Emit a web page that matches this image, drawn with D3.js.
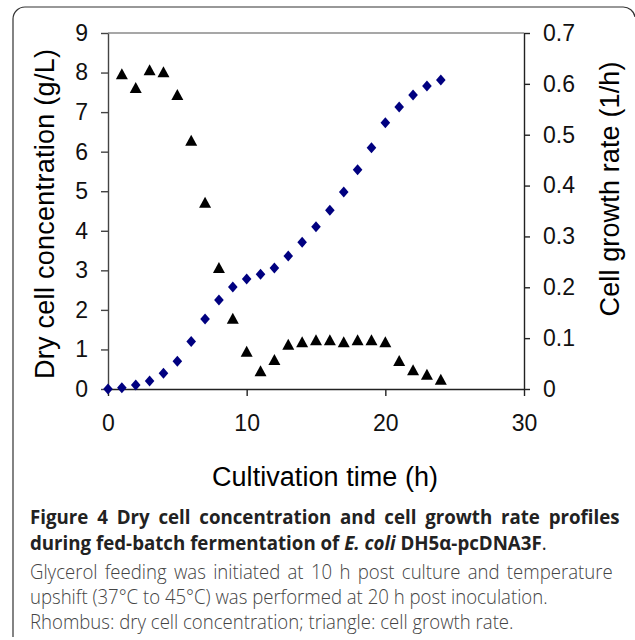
<!DOCTYPE html>
<html>
<head>
<meta charset="utf-8">
<script src="https://d3js.org/d3.v7.min.js"></script>
<style>
    body { margin: 0; background: #fff; }
    .axis text { font-family: "Liberation Sans", Arial, sans-serif; font-size: 23px; fill: #111; }
    .axis-title { font-family: "Liberation Sans", Arial, sans-serif; font-size: 27px; fill: #000; }
    .cap { font-family: "Open Sans", sans-serif; }
    .cap-title { font-weight: 700; fill: #222; font-size: 19.5px; }
    .cap-body { font-weight: 300; fill: #444; font-size: 19.5px; }
</style>
</head>
<body>
<svg id="fig" width="635" height="640"></svg>
<script>
    // cultivation time (h)
    const hours = [0, 1, 2, 3, 4, 5, 6, 7, 8, 9, 10, 11, 12, 13, 14, 15, 16, 17, 18, 19, 20, 21, 22, 23, 24];
    // dry cell concentration (g/L), rhombus
    const dryCell = [0, 0.03, 0.1, 0.2, 0.4, 0.7, 1.2, 1.77, 2.25, 2.58, 2.78, 2.9, 3.06, 3.36, 3.71, 4.1,
        4.52, 4.98, 5.54, 6.1, 6.73, 7.13, 7.43, 7.66, 7.81];
    // cell growth rate (1/h), triangle, from hour 1
    const rateHours = [1, 2, 3, 4, 5, 6, 7, 8, 9, 10, 11, 12, 13, 14, 15, 16, 17, 18, 19, 20, 21, 22, 23, 24];
    const growthRate = [0.619, 0.592, 0.627, 0.623, 0.578, 0.488, 0.366, 0.238, 0.138, 0.073, 0.035, 0.057,
        0.087, 0.092, 0.096, 0.096, 0.092, 0.096, 0.096, 0.092, 0.055, 0.037, 0.028, 0.018];

    const xTicks = [0, 10, 20, 30];
    const yLeftTicks = [0, 1, 2, 3, 4, 5, 6, 7, 8, 9];
    const yRightTicks = [0, 0.1, 0.2, 0.3, 0.4, 0.5, 0.6, 0.7];

    const plot = { left: 108, right: 524, top: 33, bottom: 389 };

    const svg = d3.select("#fig");

    // frame round the figure (only the left/top edges show in the crop)
    svg.append("path")
        .attr("d", "M13,637 L13,19 A12,12 0 0 1 25,7 L623,7 A12,12 0 0 1 635,17")
        .attr("fill", "none")
        .attr("stroke", "#333")
        .attr("stroke-width", 1.2);

    const x = d3.scaleLinear().domain([0, 30]).range([plot.left, plot.right]);
    const yL = d3.scaleLinear().domain([0, 9]).range([plot.bottom, plot.top]);
    const yR = d3.scaleLinear().domain([0, 0.7]).range([plot.bottom, plot.top]);

    // top border of plot area
    svg.append("line")
        .attr("x1", plot.left).attr("x2", plot.right)
        .attr("y1", plot.top).attr("y2", plot.top)
        .attr("stroke", "#8a8a8a").attr("stroke-width", 1.3);

    svg.append("g").attr("class", "axis")
        .attr("transform", `translate(0,${plot.bottom})`)
        .call(d3.axisBottom(x).tickValues(xTicks).tickSize(7).tickSizeOuter(0).tickPadding(19));

    const gyl = svg.append("g").attr("class", "axis")
        .attr("transform", `translate(${plot.left},0)`)
        .call(d3.axisLeft(yL).tickValues(yLeftTicks).tickSize(7).tickSizeOuter(0).tickPadding(13));

    svg.append("g").attr("class", "axis")
        .attr("transform", `translate(${plot.right},0)`)
        .call(d3.axisRight(yR).tickValues(yRightTicks).tickSize(6).tickSizeOuter(0).tickPadding(13)
            .tickFormat(d => d === 0 ? "0" : d3.format(".1f")(d)));

    svg.selectAll(".axis path, .axis line").attr("stroke", "#222").attr("stroke-width", 1.4);
    gyl.selectAll("path, line").attr("stroke", "#444");

    // axis titles
    svg.append("text").attr("class", "axis-title")
        .attr("transform", `translate(54,${(plot.top + plot.bottom) / 2 + 3}) rotate(-90)`)
        .attr("text-anchor", "middle")
        .attr("textLength", 330).attr("lengthAdjust", "spacing")
        .text("Dry cell concentration (g/L)");

    svg.append("text").attr("class", "axis-title")
        .attr("transform", `translate(619,189) rotate(-90)`)
        .attr("text-anchor", "middle")
        .attr("textLength", 255).attr("lengthAdjust", "spacing")
        .text("Cell growth rate (1/h)");

    svg.append("text").attr("class", "axis-title")
        .attr("x", 325).attr("y", 486)
        .attr("text-anchor", "middle")
        .attr("textLength", 226).attr("lengthAdjust", "spacing")
        .text("Cultivation time (h)");

    // rhombus points
    const rhombus = "M0,-5.5 L4.8,0 L0,5.5 L-4.8,0 Z";
    svg.append("g").selectAll("path")
        .data(hours.map((h, i) => ({ h: h, v: dryCell[i] })))
        .join("path")
        .attr("d", rhombus)
        .attr("fill", "#000080")
        .attr("transform", d => `translate(${x(d.h)},${yL(d.v)})`);

    // triangle points
    const tri = "M0,-6 L6,5 L-6,5 Z";
    svg.append("g").selectAll("path")
        .data(rateHours.map((h, i) => ({ h: h, v: growthRate[i] })))
        .join("path")
        .attr("d", tri)
        .attr("fill", "#000")
        .attr("transform", d => `translate(${x(d.h)},${yR(d.v)})`);

    // caption: Open Sans squeezed sideways to look like the narrower original face
    const capX = 30;
    function capLine(cls, y) {
        return svg.append("text").attr("class", "cap " + cls)
            .attr("transform", `translate(${capX},${y})`);
    }
    function squeeze(sel, width) {
        const sx = width / sel.node().getComputedTextLength();
        return sx;
    }
    function place(sel, y, sx) {
        sel.attr("transform", `translate(${capX},${y}) scale(${sx},1)`);
    }
    function justify(sel, width, sx) {
        const w = sel.node().getComputedTextLength() * sx;
        const gaps = sel.text().split(" ").length - 1;
        sel.style("word-spacing", ((width - w) / gaps / sx) + "px");
    }

    const l2 = capLine("cap-title", 550);
    l2.append("tspan").text("during fed-batch fermentation of ");
    l2.append("tspan").attr("font-style", "italic").text("E. coli");
    l2.append("tspan").text(" DH5\u03b1-pcDNA3F");
    l2.append("tspan").attr("font-weight", 400).text(".");
    const sxTitle = squeeze(l2, 517);
    place(l2, 550, sxTitle);

    const l1 = capLine("cap-title", 524)
        .text("Figure 4 Dry cell concentration and cell growth rate profiles");
    justify(l1, 590, sxTitle);
    place(l1, 524, sxTitle);

    const l4 = capLine("cap-body", 604)
        .text("upshift (37\u00b0C to 45\u00b0C) was performed at 20 h post inoculation.");
    const sxBody = squeeze(l4, 518);
    place(l4, 604, sxBody);

    const l3 = capLine("cap-body", 579)
        .text("Glycerol feeding was initiated at 10 h post culture and temperature");
    justify(l3, 583, sxBody);
    place(l3, 579, sxBody);

    const l5 = capLine("cap-body", 629)
        .text("Rhombus: dry cell concentration; triangle: cell growth rate.");
    place(l5, 629, sxBody);
</script>
</body>
</html>
